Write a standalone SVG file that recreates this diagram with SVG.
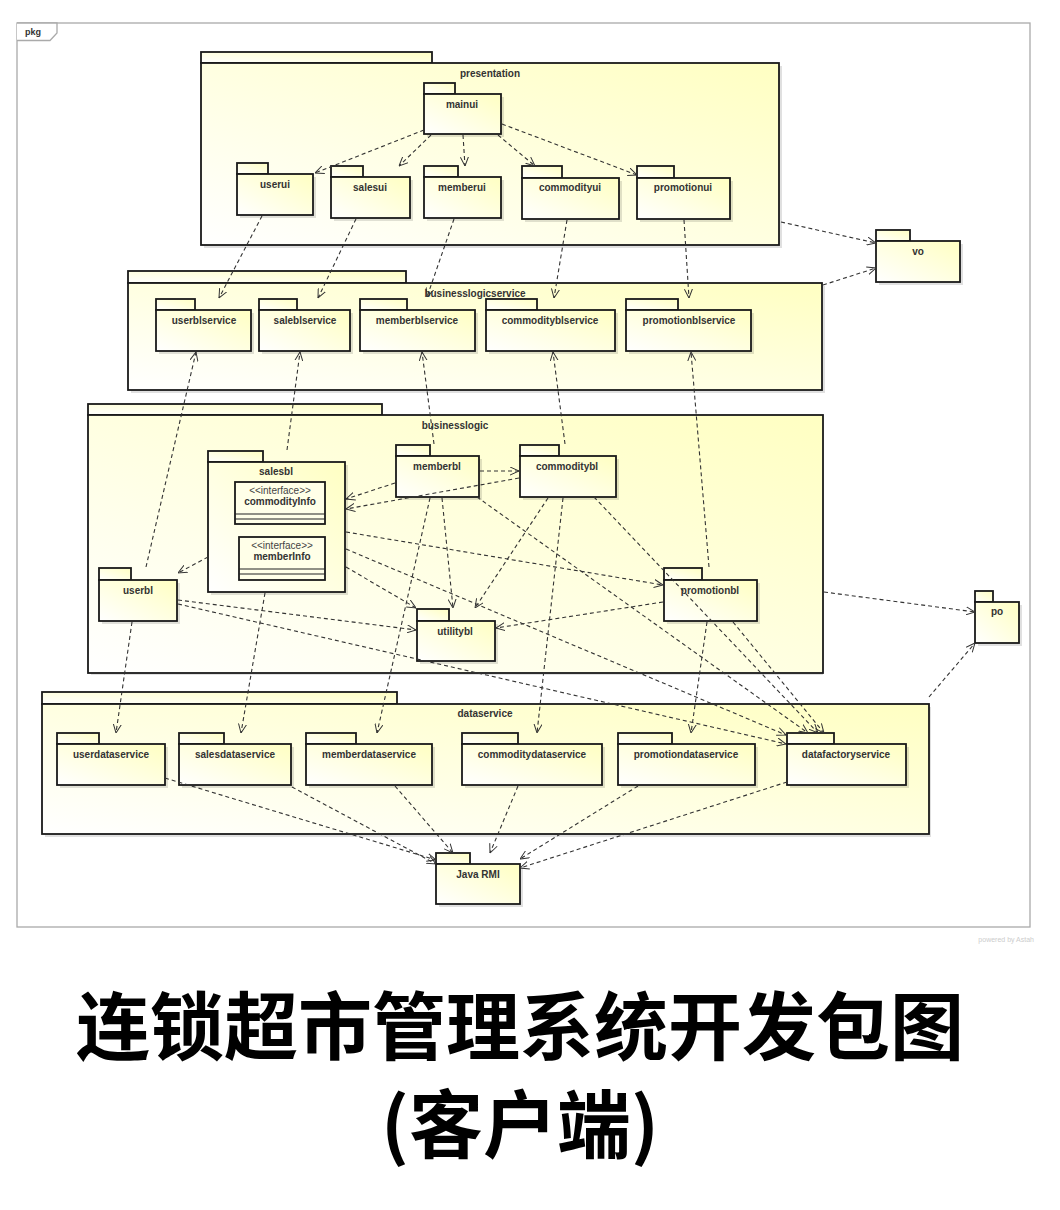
<svg xmlns="http://www.w3.org/2000/svg" width="1060" height="1210" viewBox="0 0 1060 1210">
<defs>
<linearGradient id="g" x1="0" y1="1" x2="1" y2="0">
<stop offset="0" stop-color="#FFFFFF"/>
<stop offset="1" stop-color="#FFFFC2"/>
</linearGradient>
<marker id="a" viewBox="0 0 10 10" refX="10" refY="5" markerWidth="9" markerHeight="9" markerUnits="userSpaceOnUse" orient="auto">
<path d="M0,0.5 L10,5 L0,9.5" fill="none" stroke="#333" stroke-width="1.1" stroke-dasharray="none"/>
</marker>
</defs>
<style>
.pk{fill:url(#g);stroke:#1a1a1a;stroke-width:1.8}
.sh{fill:#000;opacity:0.12}
.lb{font-family:"Liberation Sans",Arial,sans-serif;font-size:10px;font-weight:bold;fill:#333;text-anchor:middle}
.st{font-family:"Liberation Sans",Arial,sans-serif;font-size:10px;fill:#444;text-anchor:middle}
.cl{fill:#FFFFE8;stroke:#1a1a1a;stroke-width:1.8}
.cn{fill:none;stroke:#333;stroke-width:1.1;stroke-dasharray:4 3;marker-end:url(#a)}
.ttl{font-family:"Noto Sans CJK SC","Noto Sans",sans-serif;font-weight:700;font-size:74px;fill:#000;text-anchor:middle}
</style>
<rect width="1060" height="1210" fill="#fff"/>
<g id="frame">
<rect x="17" y="23" width="1013" height="904" fill="#fff" stroke="#aaa" stroke-width="1.3"/>
<path d="M17,23 L57,23 L57,33 L50,40.5 L17,40.5" fill="#fff" stroke="#aaa" stroke-width="1.3"/>
<text x="25" y="35" font-family="Liberation Sans,Arial,sans-serif" font-size="9" font-weight="bold" fill="#333">pkg</text>
</g>

<g id="presentation">
<rect class="sh" x="204" y="66" width="578" height="182"/>
<rect class="pk" x="201" y="52" width="231" height="11"/>
<rect class="pk" x="201" y="63" width="578" height="182"/>
<text class="lb" x="490" y="77">presentation</text>
</g>
<g id="businesslogicservice">
<rect class="sh" x="131" y="286" width="694" height="107"/>
<rect class="pk" x="128" y="271" width="278" height="12"/>
<rect class="pk" x="128" y="283" width="694" height="107"/>
<text class="lb" x="475" y="297">businesslogicservice</text>
</g>
<g id="businesslogic">
<rect class="sh" x="91" y="418" width="732" height="257"/>
<rect class="pk" x="88" y="404" width="294" height="11"/>
<rect class="pk" x="88" y="415" width="735" height="258"/>
<text class="lb" x="455" y="429">businesslogic</text>
</g>
<g id="dataservice">
<rect class="sh" x="45" y="707" width="886" height="130"/>
<rect class="pk" x="42" y="692" width="355" height="12"/>
<rect class="pk" x="42" y="704" width="887" height="130"/>
<text class="lb" x="485" y="717">dataservice</text>
</g>

<g id="mainui">
<rect class="sh" x="427" y="97" width="77" height="40"/>
<rect class="pk" x="424" y="83" width="31" height="11"/>
<rect class="pk" x="424" y="94" width="77" height="40"/>
<text class="lb" x="462" y="108">mainui</text>
</g>
<g id="userui">
<rect class="sh" x="240" y="177" width="76" height="41"/>
<rect class="pk" x="237" y="163" width="31" height="11"/>
<rect class="pk" x="237" y="174" width="76" height="41"/>
<text class="lb" x="275" y="188">userui</text>
</g>
<g id="salesui">
<rect class="sh" x="334" y="180" width="79" height="41"/>
<rect class="pk" x="331" y="166" width="32" height="11"/>
<rect class="pk" x="331" y="177" width="79" height="41"/>
<text class="lb" x="370" y="191">salesui</text>
</g>
<g id="memberui">
<rect class="sh" x="427" y="180" width="77" height="41"/>
<rect class="pk" x="424" y="166" width="34" height="11"/>
<rect class="pk" x="424" y="177" width="77" height="41"/>
<text class="lb" x="462" y="191">memberui</text>
</g>
<g id="commodityui">
<rect class="sh" x="525" y="181" width="97" height="41"/>
<rect class="pk" x="522" y="166" width="40" height="12"/>
<rect class="pk" x="522" y="178" width="97" height="41"/>
<text class="lb" x="570" y="191">commodityui</text>
</g>
<g id="promotionui">
<rect class="sh" x="640" y="181" width="93" height="41"/>
<rect class="pk" x="637" y="166" width="37" height="12"/>
<rect class="pk" x="637" y="178" width="93" height="41"/>
<text class="lb" x="683" y="191">promotionui</text>
</g>
<g id="vo">
<rect class="sh" x="879" y="244" width="84" height="41"/>
<rect class="pk" x="876" y="230" width="34" height="11"/>
<rect class="pk" x="876" y="241" width="84" height="41"/>
<text class="lb" x="918" y="255">vo</text>
</g>

<g id="userblservice">
<rect class="sh" x="159" y="313" width="95" height="41"/>
<rect class="pk" x="156" y="299" width="39" height="11"/>
<rect class="pk" x="156" y="310" width="95" height="41"/>
<text class="lb" x="204" y="324">userblservice</text>
</g>
<g id="saleblservice">
<rect class="sh" x="262" y="313" width="91" height="41"/>
<rect class="pk" x="259" y="299" width="38" height="11"/>
<rect class="pk" x="259" y="310" width="91" height="41"/>
<text class="lb" x="305" y="324">saleblservice</text>
</g>
<g id="memberblservice">
<rect class="sh" x="363" y="313" width="115" height="41"/>
<rect class="pk" x="360" y="299" width="47" height="11"/>
<rect class="pk" x="360" y="310" width="115" height="41"/>
<text class="lb" x="417" y="324">memberblservice</text>
</g>
<g id="commodityblservice">
<rect class="sh" x="489" y="313" width="129" height="41"/>
<rect class="pk" x="486" y="299" width="51" height="11"/>
<rect class="pk" x="486" y="310" width="129" height="41"/>
<text class="lb" x="550" y="324">commodityblservice</text>
</g>
<g id="promotionblservice">
<rect class="sh" x="629" y="313" width="125" height="41"/>
<rect class="pk" x="626" y="299" width="52" height="11"/>
<rect class="pk" x="626" y="310" width="125" height="41"/>
<text class="lb" x="689" y="324">promotionblservice</text>
</g>

<g id="salesbl">
<rect class="sh" x="211" y="465" width="137" height="130"/>
<rect class="pk" x="208" y="451" width="55" height="11"/>
<rect class="pk" x="208" y="462" width="137" height="130"/>
<text class="lb" x="276" y="475">salesbl</text>
<g id="commodityInfo">
<rect class="cl" x="235" y="482" width="90" height="42"/>
<text class="st" x="280" y="494">&lt;&lt;interface&gt;&gt;</text>
<text class="lb" x="280" y="505">commodityInfo</text>
<line x1="235" y1="514" x2="325" y2="514" stroke="#222" stroke-width="1.2"/>
<line x1="235" y1="519" x2="325" y2="519" stroke="#222" stroke-width="1.2"/>
</g>
<g id="memberInfo">
<rect class="cl" x="239" y="537" width="86" height="43"/>
<text class="st" x="282" y="549">&lt;&lt;interface&gt;&gt;</text>
<text class="lb" x="282" y="560">memberInfo</text>
<line x1="239" y1="569" x2="325" y2="569" stroke="#222" stroke-width="1.2"/>
<line x1="239" y1="574" x2="325" y2="574" stroke="#222" stroke-width="1.2"/>
</g>
</g>
<g id="memberbl">
<rect class="sh" x="399" y="459" width="83" height="41"/>
<rect class="pk" x="396" y="445" width="34" height="11"/>
<rect class="pk" x="396" y="456" width="83" height="41"/>
<text class="lb" x="437" y="470">memberbl</text>
</g>
<g id="commoditybl">
<rect class="sh" x="523" y="459" width="96" height="41"/>
<rect class="pk" x="520" y="445" width="39" height="11"/>
<rect class="pk" x="520" y="456" width="96" height="41"/>
<text class="lb" x="567" y="470">commoditybl</text>
</g>
<g id="userbl">
<rect class="sh" x="102" y="583" width="78" height="41"/>
<rect class="pk" x="99" y="568" width="32" height="12"/>
<rect class="pk" x="99" y="580" width="78" height="41"/>
<text class="lb" x="138" y="594">userbl</text>
</g>
<g id="utilitybl">
<rect class="sh" x="420" y="624" width="78" height="40"/>
<rect class="pk" x="417" y="609" width="32" height="12"/>
<rect class="pk" x="417" y="621" width="78" height="40"/>
<text class="lb" x="455" y="635">utilitybl</text>
</g>
<g id="promotionbl">
<rect class="sh" x="667" y="583" width="93" height="41"/>
<rect class="pk" x="664" y="568" width="38" height="12"/>
<rect class="pk" x="664" y="580" width="93" height="41"/>
<text class="lb" x="710" y="594">promotionbl</text>
</g>
<g id="po">
<rect class="sh" x="978" y="605" width="44" height="41"/>
<rect class="pk" x="975" y="591" width="18" height="11"/>
<rect class="pk" x="975" y="602" width="44" height="41"/>
<text class="lb" x="997" y="615">po</text>
</g>

<g id="userdataservice">
<rect class="sh" x="60" y="747" width="108" height="41"/>
<rect class="pk" x="57" y="733" width="42" height="11"/>
<rect class="pk" x="57" y="744" width="108" height="41"/>
<text class="lb" x="111" y="758">userdataservice</text>
</g>
<g id="salesdataservice">
<rect class="sh" x="182" y="747" width="112" height="41"/>
<rect class="pk" x="179" y="733" width="45" height="11"/>
<rect class="pk" x="179" y="744" width="112" height="41"/>
<text class="lb" x="235" y="758">salesdataservice</text>
</g>
<g id="memberdataservice">
<rect class="sh" x="309" y="747" width="126" height="41"/>
<rect class="pk" x="306" y="733" width="50" height="11"/>
<rect class="pk" x="306" y="744" width="126" height="41"/>
<text class="lb" x="369" y="758">memberdataservice</text>
</g>
<g id="commoditydataservice">
<rect class="sh" x="465" y="747" width="140" height="41"/>
<rect class="pk" x="462" y="733" width="56" height="11"/>
<rect class="pk" x="462" y="744" width="140" height="41"/>
<text class="lb" x="532" y="758">commoditydataservice</text>
</g>
<g id="promotiondataservice">
<rect class="sh" x="621" y="747" width="137" height="41"/>
<rect class="pk" x="618" y="733" width="54" height="11"/>
<rect class="pk" x="618" y="744" width="137" height="41"/>
<text class="lb" x="686" y="758">promotiondataservice</text>
</g>
<g id="datafactoryservice">
<rect class="sh" x="790" y="747" width="119" height="41"/>
<rect class="pk" x="787" y="733" width="47" height="11"/>
<rect class="pk" x="787" y="744" width="119" height="41"/>
<text class="lb" x="846" y="758">datafactoryservice</text>
</g>
<g id="javarmi">
<rect class="sh" x="439" y="867" width="84" height="40"/>
<rect class="pk" x="436" y="853" width="34" height="11"/>
<rect class="pk" x="436" y="864" width="84" height="40"/>
<text class="lb" x="478" y="878">Java RMI</text>
</g>

<g id="connectors">
<path class="cn" d="M424,130 L315,173"/>
<path class="cn" d="M431,135 L399,166"/>
<path class="cn" d="M463,135 L465,166"/>
<path class="cn" d="M498,135 L535,166"/>
<path class="cn" d="M502,124 L637,175"/>
<path class="cn" d="M262,216 L219,298"/>
<path class="cn" d="M356,219 L318,298"/>
<path class="cn" d="M454,219 L427,297"/>
<path class="cn" d="M567,220 L554,298"/>
<path class="cn" d="M684,220 L689,298"/>
<path class="cn" d="M781,222 L876,243"/>
<path class="cn" d="M823,285 L876,268"/>
<path class="cn" d="M146,567 L196,352"/>
<path class="cn" d="M287,450 L300,352"/>
<path class="cn" d="M434,444 L422,352"/>
<path class="cn" d="M565,444 L553,352"/>
<path class="cn" d="M709,567 L691,352"/>
<path class="cn" d="M480,471 L519,471"/>
<path class="cn" d="M395,483 L346,499"/>
<path class="cn" d="M519,478 L346,509"/>
<path class="cn" d="M208,557 L178,573"/>
<path class="cn" d="M346,532 L663,585"/>
<path class="cn" d="M346,567 L416,608"/>
<path class="cn" d="M346,549 L786,735"/>
<path class="cn" d="M442,498 L453,608"/>
<path class="cn" d="M548,498 L475,608"/>
<path class="cn" d="M663,602 L496,628"/>
<path class="cn" d="M178,600 L416,630"/>
<path class="cn" d="M178,604 L786,744"/>
<path class="cn" d="M477,497 L808,733"/>
<path class="cn" d="M594,497 L818,733"/>
<path class="cn" d="M733,622 L824,733"/>
<path class="cn" d="M824,592 L975,612"/>
<path class="cn" d="M929,697 L975,643"/>
<path class="cn" d="M132,622 L116,733"/>
<path class="cn" d="M265,593 L241,733"/>
<path class="cn" d="M430,498 L377,733"/>
<path class="cn" d="M563,498 L537,733"/>
<path class="cn" d="M707,622 L691,733"/>
<path class="cn" d="M165,778 L436,860"/>
<path class="cn" d="M292,787 L436,864"/>
<path class="cn" d="M395,786 L453,853"/>
<path class="cn" d="M518,786 L490,853"/>
<path class="cn" d="M638,786 L520,859"/>
<path class="cn" d="M787,782 L520,868"/>
</g>

<text x="1034" y="942" font-family="Liberation Sans,Arial,sans-serif" font-size="7" fill="#ccc" text-anchor="end">powered by Astah</text>
<text class="ttl" x="520" y="1054">连锁超市管理系统开发包图</text>
<text class="ttl" x="520" y="1152">(客户端)</text>
</svg>
